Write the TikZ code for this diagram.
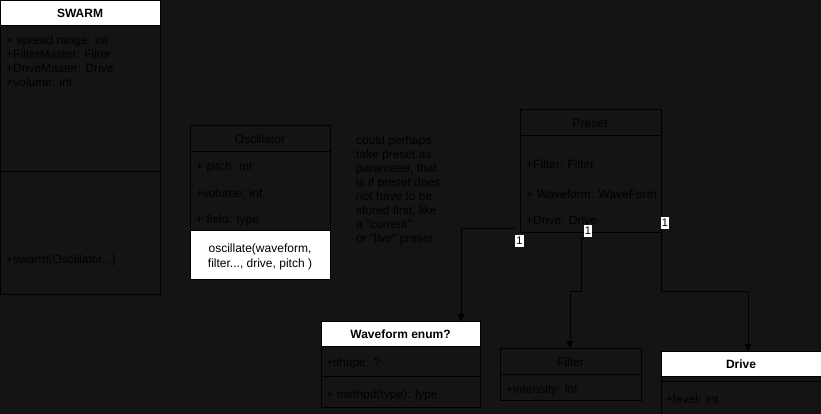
\documentclass[tikz,border=0pt]{standalone}
\usepackage{fontspec}
\setmainfont{Liberation Sans}
\usetikzlibrary{arrows.meta}
\definecolor{bgc}{RGB}{20,20,20}
\begin{document}
\begin{tikzpicture}[x=1pt,y=-1pt,
  boxline/.style={draw=black, line width=1pt},
  header/.style={boxline, fill=white},
  txt/.style={anchor=west, inner sep=0pt, text height=11pt, text depth=1pt, font=\fontsize{12}{14}\selectfont, text=black},
  ctxt/.style={txt, anchor=center},
  btxt/.style={ctxt, font=\fontsize{12}{14}\selectfont\bfseries},
  note/.style={anchor=north west, inner sep=0pt, align=left, font=\fontsize{12}{14}\selectfont, text=black},
  arr/.style={draw=black, line width=1pt, -{Triangle[width=7pt,length=7pt]}},
  mult/.style={fill=white, text=black, inner sep=1pt, font=\fontsize{11}{12}\selectfont, text height=8pt, text depth=2pt}]
\useasboundingbox (0,0) rectangle (821,414);
\fill[bgc] (0,0) rectangle (821,414);
\clip (0,0) rectangle (821,414);

% SWARM
\draw[header] (0.5,0.5) rectangle (160,26);
\draw[boxline] (0.5,26) rectangle (160,294);
\draw[boxline] (0.5,172) -- (160,172);
\node[btxt] (swarmT) at (80,13) {SWARM};
\node[txt] (sw1) at (6,40) {+ spread range: int};
\node[txt] (sw2) at (6,54) {+FilterMaster: Filter};
\node[txt] (sw3) at (6,68) {+DriveMaster: Drive};
\node[txt] (sw4) at (6,82) {+volume: int};
\node[txt] (sw5) at (6,258) {+swarm(Oscillator...)};

% Oscillator
\draw[boxline] (190,126) rectangle (330,279);
\draw[boxline] (190,152) -- (330,152);
\draw[header] (190,230) rectangle (330,279);
\node[ctxt] (oscT) at (260,139) {Oscillator};
\node[txt] (os1) at (196,166) {+ pitch: int};
\node[txt] (os2) at (196,192) {+volume: int};
\node[txt] (os3) at (196,218) {+ field: type};
\node[anchor=center, inner sep=0pt, align=center, font=\fontsize{12}{15}\selectfont, text=black] (osm) at (260,257) {oscillate(waveform,\\filter..., drive, pitch )};

% Note
\node[note] (nt) at (356,135.5) {could perhaps\\take preset as\\parameter, that\\is if preset does\\not have to be\\stored first, like\\a "current"\\or "live" preset};

% Preset
\draw[boxline] (520,110) rectangle (661,232);
\draw[boxline] (520,136) -- (661,136);
\node[ctxt] (prT) at (590,123) {Preset};
\node[txt] (pr1) at (526,163) {+Filter: Filter};
\node[txt] (pr2) at (526,193) {+ Waveform: WaveForm};
\node[txt] (pr3) at (526,219) {+Drive: Drive};

% Waveform enum?
\draw[boxline] (321,346) rectangle (480,407);
\draw[header] (321,321) rectangle (480,346);
\draw[boxline] (321,376) -- (480,376);
\node[btxt] (wfT) at (400.5,333.5) {Waveform enum?};
\node[txt] (wf1) at (326,361) {+shape: ?};
\node[txt] (wf2) at (326,393) {+ method(type): type};

% Filter
\draw[boxline] (500,348) rectangle (641,400);
\draw[boxline] (500,374) -- (641,374);
\node[ctxt] (fiT) at (570.5,361) {Filter};
\node[txt] (fi1) at (506,388) {+intensity: int};

% Drive
\draw[boxline] (661,351) rectangle (821,420);
\draw[header] (661,351) rectangle (821,376);
\draw[boxline] (661,381) -- (821,381);
\node[btxt] (drT) at (741,363.5) {Drive};
\node[txt] (dr1) at (666,398) {+level: int};

% connector coordinates
\coordinate (c1s) at (515,228);
\coordinate (c1e) at (461,321);
\coordinate (c2s) at (584,238);
\coordinate (c2e) at (570,348);
\coordinate (c3s) at (661,232);
\coordinate (c3e) at (748,351);

\draw[arr] (c1s) -| (c1e);
\draw[arr] (c2s) -- (581,238) -- (581,291) -- (570,291) -- (c2e);
\draw[arr] (c3s) -- (661,291) -- (748,291) -- (c3e);

\node[mult] (m1) at (519.5,241) {1};
\node[mult] (m2) at (588,231) {1};
\node[mult] (m3) at (665,223) {1};
\end{tikzpicture}
\end{document}
